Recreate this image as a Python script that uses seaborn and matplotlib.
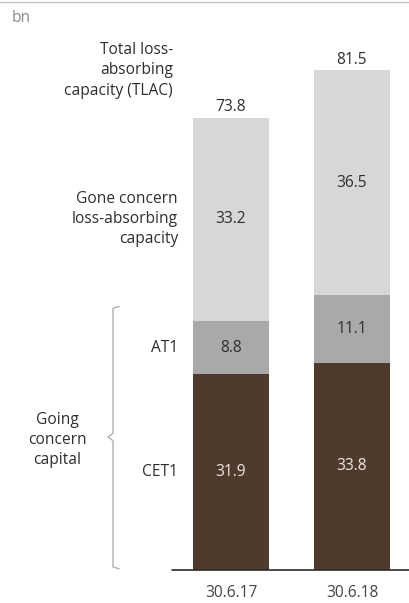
import matplotlib
matplotlib.use("Agg")
import matplotlib.pyplot as plt
from matplotlib.lines import Line2D
import seaborn as sns
import pandas as pd

# Capital components, CHF bn
dates = ["30.6.17", "30.6.18"]
cet1 = [31.9, 33.8]
at1 = [8.8, 11.1]
gone_concern = [33.2, 36.5]
tlac_total = [73.8, 81.5]

sns.set_theme(style="white")
plt.rcParams["font.family"] = ["Open Sans", "DejaVu Sans"]

C_LIGHT = "#d7d7d7"
C_MID = "#a9a9a9"
C_DARK = "#4e3b2e"
TXT = "#2e2e2e"

df = pd.DataFrame({
    "date": dates,
    "cet1": cet1,
    "going": [c + a for c, a in zip(cet1, at1)],
    "total": tlac_total,
})

fig = plt.figure(figsize=(4.09, 6.03), dpi=100)
ax = fig.add_axes([0.0, 33 / 603, 1.0, 570 / 603])

# Stacked bars drawn as overlapping cumulative bars
for col, colr in [("total", C_LIGHT), ("going", C_MID), ("cet1", C_DARK)]:
    sns.barplot(data=df, x="date", y=col, color=colr, saturation=1,
                width=0.628, errorbar=None, ax=ax, zorder=2, linewidth=0)

ax.set_xlim(-1.909, 1.471)
ax.set_ylim(0, 93.0)
ax.set_axis_off()

fs = 11.2

# Segment value labels
for i in range(len(dates)):
    ax.text(i, cet1[i] / 2, f"{cet1[i]:.1f}", ha="center", va="center",
            color="#efe6dc", fontsize=fs)
    ax.text(i, cet1[i] + at1[i] / 2, f"{at1[i]:.1f}", ha="center",
            va="center", color=TXT, fontsize=fs)
    ax.text(i, (cet1[i] + at1[i] + tlac_total[i]) / 2, f"{gone_concern[i]:.1f}",
            ha="center", va="center", color=TXT, fontsize=fs)
    ax.annotate(f"{tlac_total[i]:.1f}", (i, tlac_total[i]), xytext=(0, 4.5),
                textcoords="offset points", ha="center", va="baseline",
                color=TXT, fontsize=fs)
    ax.annotate(dates[i], (i, 0), xytext=(0, -16.5), textcoords="offset points",
                ha="center", va="center", color="#444444", fontsize=fs)

# Row labels on the left
ls = 1.35
ax.text(-0.479, 81.5, "Total loss-\nabsorbing\ncapacity (TLAC)", ha="right",
        va="center", color=TXT, fontsize=fs, linespacing=ls)
ax.text(-0.438, (cet1[0] + at1[0] + tlac_total[0]) / 2,
        "Gone concern\nloss-absorbing\ncapacity", ha="right", va="center",
        color=TXT, fontsize=fs, linespacing=ls)
ax.text(-0.438, cet1[0] + at1[0] / 2, "AT1", ha="right", va="center",
        color=TXT, fontsize=fs)
ax.text(-0.438, cet1[0] / 2, "CET1", ha="right", va="center",
        color=TXT, fontsize=fs)
ax.text(-1.438, 21.2, "Going\nconcern\ncapital", ha="center", va="center",
        color=TXT, fontsize=fs, linespacing=ls)

# Curly bracket grouping CET1 and AT1
bx, tipx = -0.975, -1.017
top, bot, mid = 42.7, 0.5, 21.7
hook = 0.05
ax.plot([bx + hook, bx, bx, tipx, bx, bx, bx + hook],
        [top + 0.3, top, mid + 0.6, mid, mid - 0.6, bot, bot - 0.3],
        color="#b0b0b0", lw=1.0, clip_on=False)

# Baseline
ax.plot([-0.488, 1.471], [0, 0], color="#2a2a2a", lw=1.2, zorder=3,
        clip_on=False)

# Unit label and top rule
fig.text(12 / 409, 1 - 18 / 603, "bn", ha="left", va="center",
         color="#8a8a8a", fontsize=fs)
fig.add_artist(Line2D([0, 1], [1 - 2 / 603, 1 - 2 / 603], color="#c4c4c4",
                      lw=1.0))

fig.savefig("out.png", dpi=100)
